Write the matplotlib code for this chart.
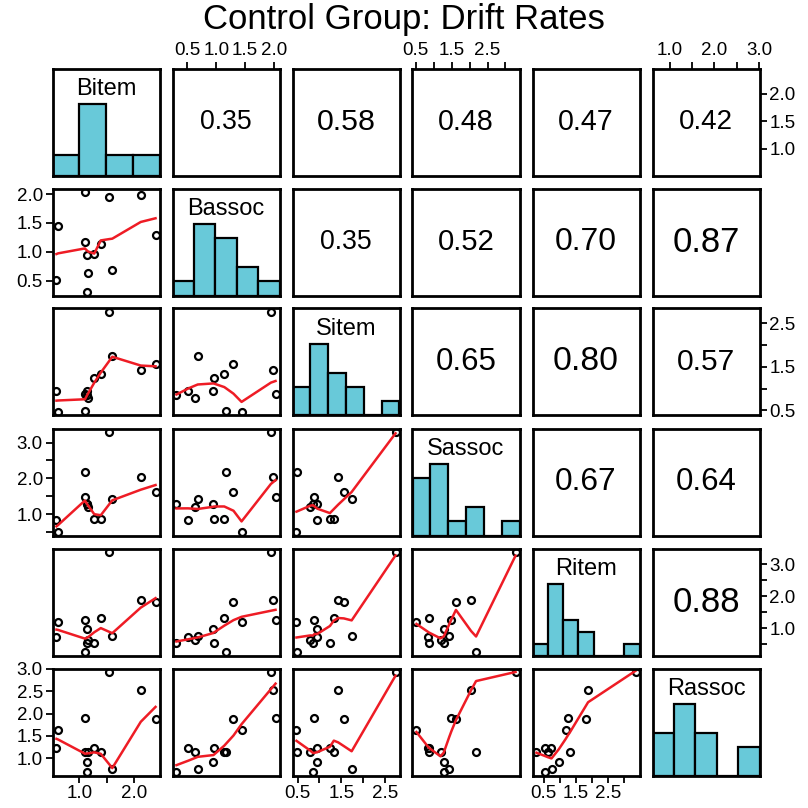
import numpy as np
import matplotlib
matplotlib.use("Agg")
import matplotlib.pyplot as plt

plt.rcParams['font.family'] = ['Liberation Sans', 'DejaVu Sans']

# drift rates per participant
names = ['Bitem', 'Bassoc', 'Sitem', 'Sassoc', 'Ritem', 'Rassoc']
bitem = [0.58, 0.61, 1.10, 1.11, 1.13, 1.16, 1.14, 1.27, 1.39, 1.54, 1.60, 2.12, 2.39]
bassoc = [0.51, 1.44, 2.03, 1.17, 0.95, 0.64, 0.31, 0.96, 1.14, 1.95, 0.68, 1.98, 1.30]
sitem = [0.95, 0.47, 0.88, 0.49, 0.95, 0.79, 0.85, 1.24, 1.33, 2.75, 1.74, 1.43, 1.56]
sassoc = [0.83, 0.52, 1.49, 2.18, 1.28, 1.19, 1.28, 0.87, 0.87, 3.28, 1.43, 2.04, 1.62]
ritem = [0.73, 1.18, 1.26, 0.27, 0.97, 0.62, 0.55, 0.55, 1.31, 3.36, 0.74, 1.88, 1.80]
rassoc = [1.22, 1.64, 1.89, 1.14, 0.92, 1.14, 0.70, 1.23, 1.14, 2.92, 0.76, 2.52, 1.87]
data = [bitem, bassoc, sitem, sassoc, ritem, rassoc]

# correlations printed in the upper panels
cor_labels = {(0, 1): '0.35', (0, 2): '0.58', (0, 3): '0.48', (0, 4): '0.47', (0, 5): '0.42',
              (1, 2): '0.35', (1, 3): '0.52', (1, 4): '0.70', (1, 5): '0.87',
              (2, 3): '0.65', (2, 4): '0.80', (2, 5): '0.57',
              (3, 4): '0.67', (3, 5): '0.64',
              (4, 5): '0.88'}

# outer axes: (ticks, labels)
top_axes = {1: ([0.5, 1.0, 1.5, 2.0], ['0.5', '1.0', '1.5', '2.0']),
            3: ([0.5, 1.0, 1.5, 2.0, 2.5, 3.0], ['0.5', '', '1.5', '', '2.5', '']),
            5: ([1.0, 1.5, 2.0, 2.5, 3.0], ['1.0', '', '2.0', '', '3.0'])}
right_axes = {0: ([1.0, 1.5, 2.0], ['1.0', '1.5', '2.0']),
              2: ([0.5, 1.0, 1.5, 2.0, 2.5], ['0.5', '', '1.5', '', '2.5']),
              4: ([0.5, 1.0, 1.5, 2.0, 2.5, 3.0], ['', '1.0', '', '2.0', '', '3.0'])}
left_axes = {1: ([0.5, 1.0, 1.5, 2.0], ['0.5', '1.0', '1.5', '2.0']),
             3: ([0.5, 1.0, 1.5, 2.0, 2.5, 3.0], ['', '1.0', '', '2.0', '', '3.0']),
             5: ([1.0, 1.5, 2.0, 2.5, 3.0], ['1.0', '1.5', '2.0', '2.5', '3.0'])}
bottom_axes = {0: ([1.0, 1.5, 2.0], ['1.0', '', '2.0']),
               2: ([0.5, 1.0, 1.5, 2.0, 2.5], ['0.5', '', '1.5', '', '2.5']),
               4: ([0.5, 1.0, 1.5, 2.0, 2.5, 3.0], ['0.5', '', '1.5', '', '2.5', ''])}

HIST_COL = '#68C9D9'
BIN_W = 0.5


def lowess(x, y, f=2 / 3, iters=3):
    # port of R's clowess (without the delta shortcut)
    o = np.argsort(x, kind='stable')
    x = np.asarray(x, float)[o]
    y = np.asarray(y, float)[o]
    n = len(x)
    ns = max(2, min(n, int(f * n + 1e-7)))
    rw = np.ones(n)
    ys = np.zeros(n)
    xr = x[-1] - x[0]
    for it in range(iters + 1):
        nleft, nright = 0, ns - 1
        for i in range(n):
            while nright < n - 1:
                if x[i] - x[nleft] <= x[nright + 1] - x[i]:
                    break
                nleft += 1
                nright += 1
            h = max(x[i] - x[nleft], x[nright] - x[i])
            h9, h1 = 0.999 * h, 0.001 * h
            w = np.zeros(n)
            for j in range(nleft, n):
                r = abs(x[j] - x[i])
                if r <= h9:
                    w[j] = 1.0 if r <= h1 else (1 - (r / h) ** 3) ** 3
                    w[j] *= rw[j]
                elif x[j] > x[i]:
                    break
            a = w.sum()
            if a <= 0:
                ys[i] = y[i]
                continue
            w = w / a
            if h > 0:
                a = (w * x).sum()
                b = x[i] - a
                c = (w * (x - a) ** 2).sum()
                if np.sqrt(c) > 0.001 * xr:
                    w = w * (b / c * (x - a) + 1)
            ys[i] = (w * y).sum()
        if it == iters:
            break
        res = np.abs(y - ys)
        cmad = 6 * np.median(res)
        if cmad < 1e-7 * res.mean():
            break
        rw = np.where(res <= 0.001 * cmad, 1.0,
                      np.where(res <= 0.999 * cmad, (1 - (res / cmad) ** 2) ** 2, 0.0))
    return x, ys


def usr(v):
    lo, hi = min(v), max(v)
    pad = 0.04 * (hi - lo)
    return lo - pad, hi + pad


fig = plt.figure(figsize=(8.08, 8.08), dpi=100)
W = 808.0
n = len(names)

for i in range(n):
    for j in range(n):
        left = 52.5 + 120 * j
        top = 68.5 + 120 * i
        ax = fig.add_axes([left / W, 1 - (top + 107) / W, 107 / W, 107 / W])
        for s in ax.spines.values():
            s.set_linewidth(2.0)
        ax.tick_params(which='both', direction='out', length=5, width=1.3,
                       labelsize=13.5, pad=2, colors='black')
        ax.set_xticks([])
        ax.set_yticks([])

        if i == j:
            v = np.asarray(data[i])
            lo = np.floor(v.min() / BIN_W) * BIN_W
            hi = np.ceil(v.max() / BIN_W) * BIN_W
            edges = np.arange(lo, hi + BIN_W / 2, BIN_W)
            counts, _ = np.histogram(v, bins=edges)
            ax.bar(edges[:-1], counts / counts.max(), width=BIN_W, align='edge',
                   color=HIST_COL, edgecolor='black', linewidth=1.6)
            ax.set_xlim(lo, hi)
            ax.set_ylim(0, 1.5)
            ax.text(0.5, 0.81, names[i], transform=ax.transAxes, ha='center',
                    va='center', fontsize=17)
            continue

        ax.set_xlim(*usr(data[j]))
        ax.set_ylim(*usr(data[i]))

        if i > j:
            ax.plot(data[j], data[i], 'o', mfc='none', mec='black', ms=5, mew=1.6)
            sx, sy = lowess(data[j], data[i])
            ax.plot(sx, sy, color='#EE1C25', lw=1.8)
        else:
            lab = cor_labels[(i, j)]
            r = abs(float(lab))
            ax.text(0.5, 0.5, lab, transform=ax.transAxes, ha='center', va='center',
                    fontsize=15.3 + 11.1 * r)

        if i == 0 and j in top_axes:
            t, l = top_axes[j]
            ax.xaxis.set_ticks_position('top')
            ax.set_xticks(t)
            ax.set_xticklabels(l)
        if i == n - 1 and j in bottom_axes:
            t, l = bottom_axes[j]
            ax.xaxis.set_ticks_position('bottom')
            ax.set_xticks(t)
            ax.set_xticklabels(l)
        if j == n - 1 and i in right_axes:
            t, l = right_axes[i]
            ax.yaxis.set_ticks_position('right')
            ax.set_yticks(t)
            ax.set_yticklabels(l)
        if j == 0 and i in left_axes:
            t, l = left_axes[i]
            ax.yaxis.set_ticks_position('left')
            ax.set_yticks(t)
            ax.set_yticklabels(l)

fig.text(0.5, 1 - 20 / W, 'Control Group: Drift Rates', ha='center', va='center',
         fontsize=25)

fig.savefig('out.png', dpi=100)
